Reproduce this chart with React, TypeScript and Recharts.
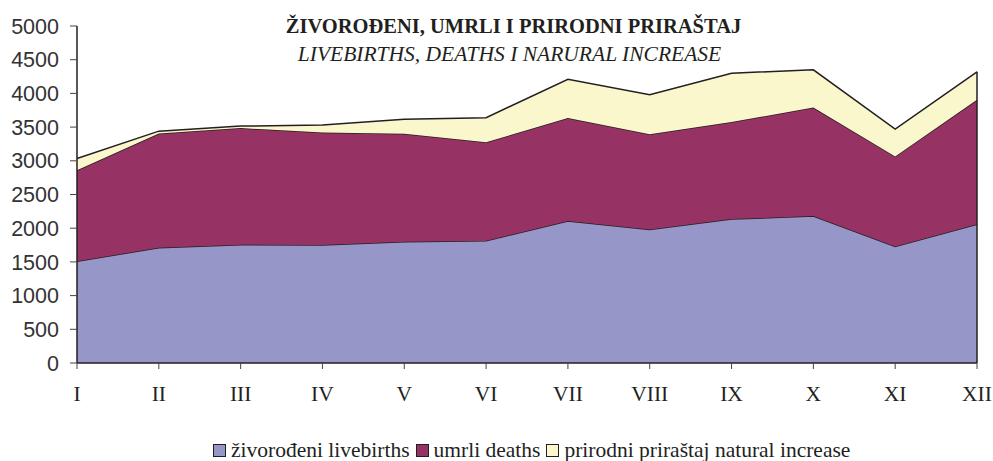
import React from 'react';
import { AreaChart, Area, XAxis, YAxis, ReferenceLine } from 'recharts';

const months = ['I', 'II', 'III', 'IV', 'V', 'VI', 'VII', 'VIII', 'IX', 'X', 'XI', 'XII'];
const livebirths = [1510, 1710, 1755, 1750, 1800, 1815, 2105, 1980, 2135, 2180, 1730, 2060];
const deaths = [1350, 1695, 1730, 1670, 1600, 1460, 1530, 1415, 1440, 1610, 1335, 1845];
const naturalIncrease = [175, 35, 30, 110, 215, 365, 575, 585, 725, 560, 405, 415];
const yTicks = [0, 500, 1000, 1500, 2000, 2500, 3000, 3500, 4000, 4500, 5000];

const seriesNames = {
  livebirths: 'živorođeni livebirths',
  deaths: 'umrli deaths',
  natural: 'prirodni priraštaj natural increase',
};
const colors = { livebirths: '#9696C8', deaths: '#963264', natural: '#FBF7CC' };
const ink = '#231F20';

const data = months.map((m, i) => ({
  month: m,
  livebirths: livebirths[i],
  deaths: deaths[i],
  natural: naturalIncrease[i],
}));
const lastIdx = months.length - 1;
const lastTotal = livebirths[lastIdx] + deaths[lastIdx] + naturalIncrease[lastIdx];

const serif = '"Liberation Serif", "Times New Roman", serif';
const sans = '"Liberation Sans", Arial, sans-serif';

export default function App() {
  const legendItems = [
    { key: 'livebirths', label: seriesNames.livebirths, color: colors.livebirths },
    { key: 'deaths', label: seriesNames.deaths, color: colors.deaths },
    { key: 'natural', label: seriesNames.natural, color: colors.natural },
  ];
  return (
    <div style={{ position: 'absolute', left: 0, top: 0, width: 993, height: 461, background: '#fff' }}>
      <AreaChart width={993} height={461} data={data} margin={{ top: 26, right: 16, bottom: 0, left: 0 }}>
        <XAxis
          dataKey="month"
          height={98}
          tickSize={6}
          tickMargin={17}
          axisLine={{ stroke: ink, strokeWidth: 1.5 }}
          tickLine={{ stroke: '#444', strokeWidth: 1 }}
          tick={{ fill: ink, fontFamily: serif, fontSize: 21.5 }}
          interval={0}
        />
        <YAxis
          width={77}
          domain={[0, 5000]}
          ticks={yTicks}
          tickSize={7}
          tickMargin={11}
          axisLine={{ stroke: ink, strokeWidth: 1.5 }}
          tickLine={{ stroke: '#444', strokeWidth: 1 }}
          tick={{ fill: '#333', fontFamily: sans, fontSize: 21.5 }}
          interval={0}
        />
        <Area type="linear" dataKey="livebirths" stackId="a" stroke={ink} strokeWidth={1.5} fill={colors.livebirths} fillOpacity={1} isAnimationActive={false} />
        <Area type="linear" dataKey="deaths" stackId="a" stroke={ink} strokeWidth={1.5} fill={colors.deaths} fillOpacity={1} isAnimationActive={false} />
        <Area type="linear" dataKey="natural" stackId="a" stroke={ink} strokeWidth={1.5} fill={colors.natural} fillOpacity={1} isAnimationActive={false} />
        <ReferenceLine
          segment={[{ x: months[lastIdx], y: 0 }, { x: months[lastIdx], y: lastTotal }]}
          stroke={ink}
          strokeWidth={1.5}
        />
      </AreaChart>
      <div style={{ position: 'absolute', left: 0, width: 1027, top: 14.4, textAlign: 'center', fontFamily: serif, fontWeight: 'bold', fontSize: 20.5, color: ink, lineHeight: '24px', whiteSpace: 'nowrap' }}>
        ŽIVOROĐENI, UMRLI I PRIRODNI PRIRAŠTAJ
      </div>
      <div style={{ position: 'absolute', left: 0, width: 1019, top: 41.7, textAlign: 'center', fontFamily: serif, fontStyle: 'italic', fontSize: 21.5, color: ink, lineHeight: '24px', whiteSpace: 'nowrap' }}>
        LIVEBIRTHS, DEATHS I NARURAL INCREASE
      </div>
      <div style={{ position: 'absolute', left: 213, top: 438.4, display: 'flex', alignItems: 'center', fontFamily: serif, fontSize: 21.5, color: ink, lineHeight: '24px', whiteSpace: 'nowrap' }}>
        {legendItems.map((it) => (
          <div key={it.key} style={{ display: 'flex', alignItems: 'center', marginRight: 6 }}>
            <span style={{ display: 'inline-block', width: 11, height: 11, background: it.color, border: `1.5px solid ${ink}`, marginRight: 5 }} />
            <span>{it.label}</span>
          </div>
        ))}
      </div>
    </div>
  );
}
